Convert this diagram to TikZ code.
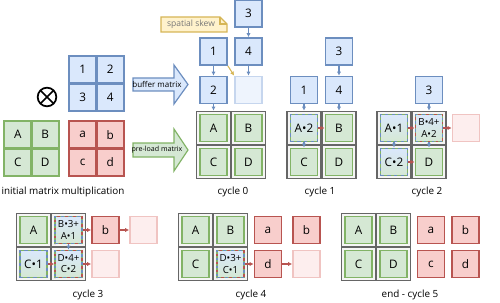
\documentclass[tikz,border=0pt]{standalone}
\usepackage{fontspec}
\setmainfont{Open Sans}
\usetikzlibrary{arrows.meta}
\definecolor{bluedraw}{HTML}{6C8EBF}
\definecolor{bluefill}{HTML}{DAE8FC}
\definecolor{greendraw}{HTML}{82B366}
\definecolor{greenfill}{HTML}{D5E8D4}
\definecolor{reddraw}{HTML}{B85450}
\definecolor{redfill}{HTML}{F8CECC}
\definecolor{fadebluedraw}{HTML}{C6D6EE}
\definecolor{fadebluefill}{HTML}{EEF4FD}
\definecolor{fadereddraw}{HTML}{F0C4C2}
\definecolor{faderedfill}{HTML}{FDEEEE}
\definecolor{celldraw}{HTML}{666666}
\definecolor{cellfill}{HTML}{F5F5F5}
\definecolor{notedraw}{HTML}{D6B656}
\definecolor{notefill}{HTML}{FFF2CC}
\definecolor{notetext}{HTML}{777777}
\begin{document}
\begin{tikzpicture}[x=0.75pt,y=-0.75pt,
  box/.style={draw, line width=1.3pt, minimum size=20.25pt, inner sep=0pt, font=\fontsize{8.8}{10}\selectfont},
  bluebox/.style={box, draw=bluedraw, fill=bluefill},
  greenbox/.style={box, draw=greendraw, fill=greenfill},
  redbox/.style={box, draw=reddraw, fill=redfill},
  fadebluebox/.style={box, draw=fadebluedraw, fill=fadebluefill},
  faderedbox/.style={box, draw=fadereddraw, fill=faderedfill},
  mixbox/.style={box, top color=bluefill, bottom color=greenfill, draw=greendraw,
    postaction={draw=bluedraw, line width=1.3pt, dash pattern=on 2.5pt off 2.5pt}},
  sumbox/.style={box, top color=bluefill, bottom color=greenfill, draw=greendraw,
    align=center, font=\fontsize{7.3}{8.3}\selectfont,
    postaction={draw=bluedraw, line width=1.3pt, dash pattern=on 2pt off 4pt},
    postaction={draw=reddraw, line width=1.3pt, dash pattern=on 2pt off 4pt, dash phase=3pt}},
  cell/.style={draw=celldraw, fill=cellfill, line width=1.3pt, minimum width=25.5pt, minimum height=24.75pt, inner sep=0pt},
  flow/.style={-{Latex[length=3pt,width=3.2pt]}, line width=0.8pt},
  bflow/.style={flow, bluedraw},
  rflow/.style={flow, reddraw},
  skewflow/.style={flow, notedraw},
  caption/.style={font=\fontsize{7.4}{9}\selectfont}]
\useasboundingbox (0,0) rectangle (500,303);

% initial matrices
\node[bluebox] (m1) at (82.75,69.75) {1};
\node[bluebox] (m2) at (110.25,69.75) {2};
\node[bluebox] (m3) at (82.75,97.25) {3};
\node[bluebox] (m4) at (110.25,97.25) {4};
\node[greenbox] (mA) at (17.75,134.75) {A};
\node[greenbox] (mB) at (45.25,134.75) {B};
\node[greenbox] (mC) at (17.75,162.25) {C};
\node[greenbox] (mD) at (45.25,162.25) {D};
\node[redbox] (ma) at (82.75,134.75) {a};
\node[redbox] (mb) at (110.25,134.75) {b};
\node[redbox] (mc) at (82.75,162.25) {c};
\node[redbox] (md) at (110.25,162.25) {d};
\node[circle, draw, line width=1.3pt, minimum size=14pt, outer sep=0pt] (times) at (47,97) {};
\draw[line width=1.3pt] (times.north west) -- (times.south east) (times.north east) -- (times.south west);
\node[caption] (cap) at (63,192) {initial matrix multiplication};

% feed arrows
\draw[bluedraw, fill=bluefill, line width=0.9pt] (133,78) -- (174,78) -- (174,65) -- (188,84.5) -- (174,104) -- (174,91) -- (133,91) -- cycle;
\node[font=\fontsize{6}{7}\selectfont] (buffer) at (157,84.5) {buffer matrix};
\draw[greendraw, fill=greenfill, line width=0.9pt] (133,143) -- (174,143) -- (174,129) -- (188,150) -- (174,171) -- (174,157) -- (133,157) -- cycle;
\node[font=\fontsize{5.3}{6}\selectfont] (preload) at (157,150) {pre-load matrix};

% cycle 0
\draw[notedraw, fill=notefill, line width=0.8pt] (161,17) -- (220,17) -- (227,24) -- (227,32) -- (161,32) -- cycle;
\draw[notedraw, line width=0.8pt] (220,17) -- (220,24) -- (227,24);
\node[font=\fontsize{6.4}{7}\selectfont, text=notetext] (skew) at (191,24.5) {spatial skew};
\node[cell] (c0A) at (213.5,128) {};
\node[cell] (c0B) at (248.5,128) {};
\node[cell] (c0C) at (213.5,162) {};
\node[cell] (c0D) at (248.5,162) {};
\node[greenbox] (n0A) at (c0A) {A};
\node[greenbox] (n0B) at (c0B) {B};
\node[greenbox] (n0C) at (c0C) {C};
\node[greenbox] (n0D) at (c0D) {D};
\node[bluebox] (n0three) at (248.5,13.5) {3};
\node[bluebox] (n0one) at (213.5,51.5) {1};
\node[bluebox] (n0four) at (248.5,51.5) {4};
\node[bluebox] (n0two) at (213.5,90) {2};
\node[fadebluebox] (n0fade) at (248.5,90) {};
\draw[bflow] (n0three) -- (n0four);
\draw[bflow] (n0one) -- (n0two);
\draw[bflow] (n0four) -- (n0fade);
\draw[bflow] (n0two) -- (c0A);
\draw[skewflow] (n0one.south east) -- (n0fade.north west);
\node[caption] (cap0) at (233,192) {cycle 0};

% cycle 1
\node[cell] (c1A) at (304,128) {};
\node[cell] (c1B) at (339,128) {};
\node[cell] (c1C) at (304,162) {};
\node[cell] (c1D) at (339,162) {};
\node[mixbox] (n1A) at (c1A) {A•2};
\node[greenbox] (n1B) at (c1B) {B};
\node[greenbox] (n1C) at (c1C) {C};
\node[greenbox] (n1D) at (c1D) {D};
\node[bluebox] (n1three) at (339,51.5) {3};
\node[bluebox] (n1one) at (304,90) {1};
\node[bluebox] (n1four) at (339,90) {4};
\draw[bflow] (n1three) -- (n1four);
\draw[bflow] (n1one) -- (c1A);
\draw[bflow] (n1four) -- (c1B);
\draw[bflow] (n1A) -- (n1C);
\draw[rflow] (n1A) -- (n1B);
\node[caption] (cap1) at (320,192) {cycle 1};

% cycle 2
\node[cell] (c2A) at (394,128) {};
\node[cell] (c2B) at (429,128) {};
\node[cell] (c2C) at (394,162) {};
\node[cell] (c2D) at (429,162) {};
\node[mixbox] (n2A) at (c2A) {A•1};
\node[sumbox] (n2B) at (c2B) {B•4+\\A•2};
\node[mixbox] (n2C) at (c2C) {C•2};
\node[greenbox] (n2D) at (c2D) {D};
\node[bluebox] (n2three) at (429,90) {3};
\node[faderedbox] (n2out) at (466,128) {};
\draw[bflow] (n2three) -- (c2B);
\draw[bflow] (n2A) -- (n2C);
\draw[bflow] (n2B) -- (n2D);
\draw[rflow] (n2A) -- (n2B);
\draw[rflow] (n2C) -- (n2D);
\draw[rflow] (n2B) -- (n2out);
\node[caption] (cap2) at (427,192) {cycle 2};

% cycle 3
\node[cell] (c3A) at (33.5,230) {};
\node[cell] (c3B) at (68.5,230) {};
\node[cell] (c3C) at (33.5,264) {};
\node[cell] (c3D) at (68.5,264) {};
\node[greenbox] (n3A) at (c3A) {A};
\node[sumbox] (n3B) at (c3B) {B•3+\\A•1};
\node[mixbox] (n3C) at (c3C) {C•1};
\node[sumbox] (n3D) at (c3D) {D•4+\\C•2};
\node[redbox] (n3b) at (105.5,230) {b};
\node[faderedbox] (n3bout) at (143.5,230) {};
\node[faderedbox] (n3dout) at (105.5,264) {};
\draw[bflow] (n3B) -- (n3D);
\draw[rflow] (n3C) -- (n3D);
\draw[rflow] (n3B) -- (n3b);
\draw[rflow] (n3b) -- (n3bout);
\draw[rflow] (n3D) -- (n3dout);
\node[caption] (cap3) at (88,295) {cycle 3};

% cycle 4
\node[cell] (c4A) at (195.5,230) {};
\node[cell] (c4B) at (230.5,230) {};
\node[cell] (c4C) at (195.5,264) {};
\node[cell] (c4D) at (230.5,264) {};
\node[greenbox] (n4A) at (c4A) {A};
\node[greenbox] (n4B) at (c4B) {B};
\node[greenbox] (n4C) at (c4C) {C};
\node[sumbox] (n4D) at (c4D) {D•3+\\C•1};
\node[redbox] (n4a) at (268,230) {a};
\node[redbox] (n4b) at (306.5,230) {b};
\node[redbox] (n4d) at (268,264) {d};
\node[faderedbox] (n4dout) at (306.5,264) {};
\draw[rflow] (n4D) -- (n4d);
\draw[rflow] (n4d) -- (n4dout);
\node[caption] (cap4) at (251,295) {cycle 4};

% cycle 5
\node[cell] (c5A) at (358.5,230) {};
\node[cell] (c5B) at (393.5,230) {};
\node[cell] (c5C) at (358.5,264) {};
\node[cell] (c5D) at (393.5,264) {};
\node[greenbox] (n5A) at (c5A) {A};
\node[greenbox] (n5B) at (c5B) {B};
\node[greenbox] (n5C) at (c5C) {C};
\node[greenbox] (n5D) at (c5D) {D};
\node[redbox] (n5a) at (431,230) {a};
\node[redbox] (n5b) at (465.5,230) {b};
\node[redbox] (n5c) at (431,264) {c};
\node[redbox] (n5d) at (465.5,264) {d};
\node[caption] (cap5) at (410,295) {end - cycle 5};
\end{tikzpicture}
\end{document}
